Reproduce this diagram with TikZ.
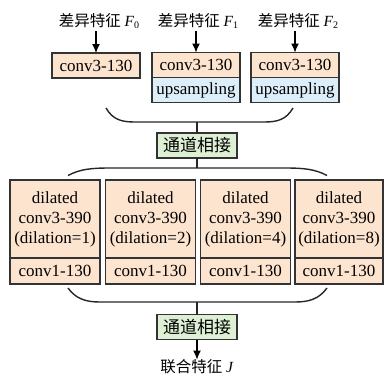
\documentclass[tikz,border=0pt]{standalone}
\usepackage{fontspec}
\setmainfont{Liberation Serif}
\newfontfamily\lserif{Liberation Serif}
\newfontfamily\cjk{Noto Sans CJK SC}
\usepackage{tikz}
\usetikzlibrary{arrows.meta}
\usetikzlibrary{positioning}
\tikzset{box/.style = {draw = black!80, fill = orfill, line width = 1.2bp, outer sep = 0,
    inner sep = 0, align = center, font = \lserif\fontsize{17bp}{20bp}\selectfont}}
\tikzset{upbox/.style = {box, fill = upfill}}
\tikzset{catbox/.style = {box, fill = catfill, minimum width = 80bp, minimum height = 25bp}}
\tikzset{feat/.style = {inner sep = 0, font = \lserif\fontsize{15.5bp}{18bp}\selectfont}}
\tikzset{arr/.style = {line width = 1.2bp, -{Latex[length = 9bp, width = 8bp]}}}
\tikzset{brace/.style = {line width = 1.4bp, black!85}}
\definecolor{orfill}{HTML}{FDE4CF}
\definecolor{upfill}{HTML}{DDEEFB}
\definecolor{catfill}{HTML}{DEF0D4}
\newcommand{\fsub}[1]{\textit{F}\raisebox{-0.35ex}{\fontsize{10bp}{10bp}\selectfont #1}}

\begin{document}
\begin{tikzpicture}[x = 1bp, y = -1bp]
      \useasboundingbox (0, 0) rectangle (384, 381);

      % input features
      \node [feat] (f0) at (99, 21) {{\cjk 差异特征} \fsub{0}};
      \node [feat] (f1) at (198, 21) {{\cjk 差异特征} \fsub{1}};
      \node [feat] (f2) at (298, 21) {{\cjk 差异特征} \fsub{2}};

      \node [box, minimum width = 88bp, minimum height = 25bp] (c0) at (96, 65.5) {conv3-130};
      \node [box, minimum width = 88bp, minimum height = 25bp] (c1) at (196, 65) {conv3-130};
      \node [upbox, minimum width = 88bp, minimum height = 25bp, below = 0pt of c1] (u1) {upsampling};
      \node [box, minimum width = 88bp, minimum height = 25bp] (c2) at (295, 65) {conv3-130};
      \node [upbox, minimum width = 88bp, minimum height = 25bp, below = 0pt of c2] (u2) {upsampling};

      \draw [arr] (c0.north |- f0.south) ++(0, 2) -- (c0.north);
      \draw [arr] (c1.north |- f1.south) ++(0, 2) -- (c1.north);
      \draw [arr] (c2.north |- f2.south) ++(0, 2) -- (c2.north);

      % first concatenation
      \node [catbox] (cat1) at (197, 145.5) {\cjk 通道相接};
      \coordinate (j1) at (197, 122);
      \draw [brace] (106, 108) .. controls (113, 120) and (122, 122) .. (135, 122)
        -- (264, 122) .. controls (277, 122) and (286, 120) .. (293, 108);
      \draw [brace] (j1) -- (cat1.north);

      \coordinate (j2) at (197, 168);
      \draw [brace] (cat1.south) -- (j2);
      \draw [brace] (68, 175.5) .. controls (80, 169) and (92, 168) .. (110, 168)
        -- (285, 168) .. controls (303, 168) and (315, 169) .. (327, 175.5);

      % dilated branches
      \node [box, minimum width = 90bp, minimum height = 78bp] (d1) at (55, 219) {dilated\\conv3-390\\(dilation=1)};
      \node [box, minimum width = 90bp, minimum height = 78bp] (d2) at (150.5, 219) {dilated\\conv3-390\\(dilation=2)};
      \node [box, minimum width = 90bp, minimum height = 78bp] (d4) at (245.5, 219) {dilated\\conv3-390\\(dilation=4)};
      \node [box, minimum width = 88bp, minimum height = 78bp] (d8) at (339, 219) {dilated\\conv3-390\\(dilation=8)};
      \node [box, minimum width = 90bp, minimum height = 26bp, below = 0pt of d1] (p1) {conv1-130};
      \node [box, minimum width = 90bp, minimum height = 26bp, below = 0pt of d2] (p2) {conv1-130};
      \node [box, minimum width = 90bp, minimum height = 26bp, below = 0pt of d4] (p4) {conv1-130};
      \node [box, minimum width = 88bp, minimum height = 26bp, below = 0pt of d8] (p8) {conv1-130};

      % second concatenation
      \node [catbox] (cat2) at (197, 327) {\cjk 通道相接};
      \coordinate (j3) at (197, 302);
      \draw [brace] (68, 288) .. controls (76, 299) and (86, 302) .. (100, 302)
        -- (295, 302) .. controls (309, 302) and (319, 299) .. (327, 288);
      \draw [brace] (j3) -- (cat2.north);

      \node [feat] (out) at (197, 367) {{\cjk 联合特征} \textit{J}};
      \draw [arr] (cat2.south) -- (out.north);
    \end{tikzpicture}
\end{document}
